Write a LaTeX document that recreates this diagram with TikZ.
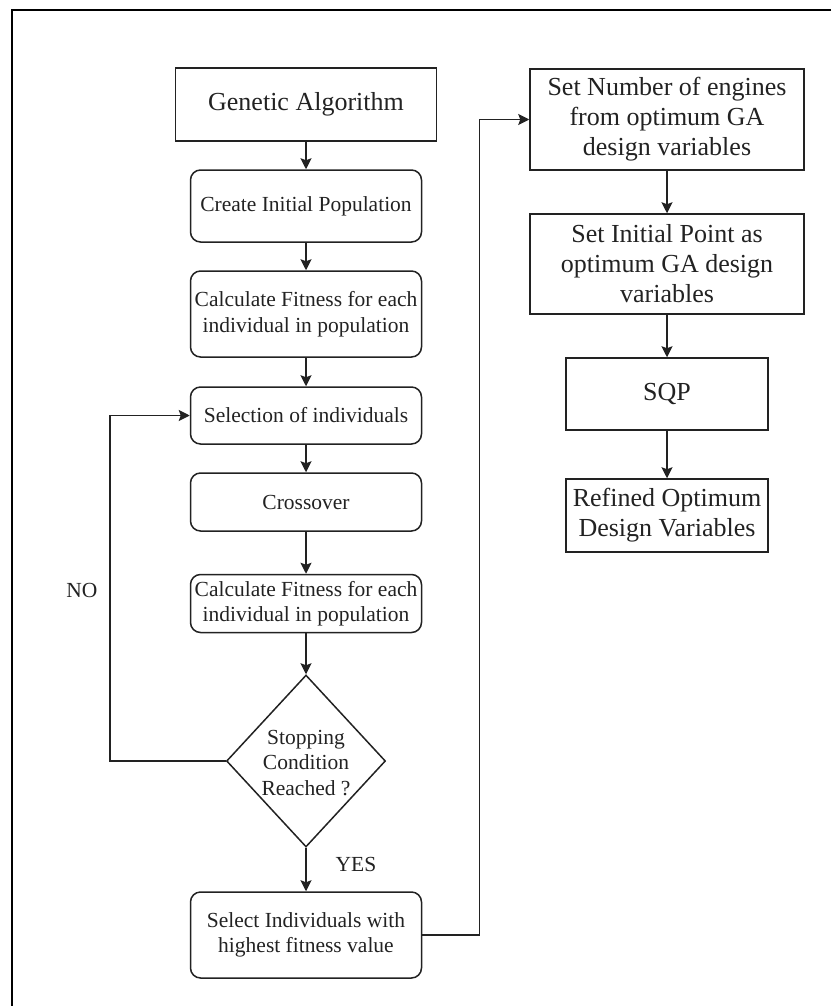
\documentclass[tikz,border=0pt]{standalone}
\usepackage{fontspec}
\setmainfont{Liberation Serif}
\usetikzlibrary{shapes.geometric,arrows.meta}
\definecolor{ink}{HTML}{222222}
\tikzset{
  x=1pt, y=-1pt,
  every node/.style={text=ink, align=center},
  plainbox/.style={draw=ink, line width=1.5pt, rectangle, inner sep=0pt},
  roundbox/.style={plainbox, rounded corners=10pt, minimum width=231pt},
  smalltext/.style={font=\fontsize{21.5}{25.5}\selectfont},
  bigtext/.style={font=\fontsize{26}{30}\selectfont},
  decision/.style={draw=ink, line width=1.5pt, diamond, inner sep=0pt, minimum width=159pt, minimum height=172pt},
  arr/.style={draw=ink, line width=1.5pt, -{Stealth[length=11pt,width=11pt,inset=2pt]}},
  link/.style={draw=ink, line width=1.5pt}
}
\begin{document}
\begin{tikzpicture}
\useasboundingbox (0,0) rectangle (831,1006);
% outer frame
\draw[draw=black, line width=2pt] (831,10) -- (12,10) -- (12,1006);

% left column: genetic algorithm
\node[plainbox, bigtext, minimum width=261pt, minimum height=73pt] (ga) at (306,104.5) {Genetic Algorithm};
\node[roundbox, smalltext, minimum height=72pt] (init) at (306,206) {Create Initial Population};
\node[roundbox, smalltext, minimum height=86pt] (fit1) at (306,314) {Calculate Fitness for each\\individual in population};
\node[roundbox, smalltext, minimum height=57pt] (sel) at (306,415.5) {Selection of individuals};
\node[roundbox, smalltext, minimum height=58pt] (cross) at (306,502) {Crossover};
\node[roundbox, smalltext, minimum height=58pt] (fit2) at (306,603.5) {Calculate Fitness for each\\individual in population};
\node[decision, label={[smalltext, align=center, yshift=-2pt]center:Stopping\\Condition\\Reached ?}] (stop) at (306,761) {};
\node[roundbox, smalltext, minimum height=86pt] (best) at (306,935) {Select Individuals with\\highest fitness value};

% right column: gradient-based refinement
\node[plainbox, bigtext, minimum width=274pt, minimum height=101pt] (eng) at (667,119.5) {Set Number of engines\\from optimum GA\\design variables};
\node[plainbox, bigtext, minimum width=274pt, minimum height=100pt] (start) at (667,264) {Set Initial Point as\\optimum GA design\\variables};
\node[plainbox, bigtext, minimum width=202pt, minimum height=72pt] (sqp) at (667,394) {SQP};
\node[plainbox, bigtext, minimum width=202pt, minimum height=73pt] (refined) at (667,515.5) {Refined Optimum\\Design Variables};

% branch labels
\node[smalltext] (no) at (82,590) {NO};
\node[smalltext] (yes) at (356,864) {YES};

% connectors
\draw[arr] (ga) -- (init);
\draw[arr] (init) -- (fit1);
\draw[arr] (fit1) -- (sel);
\draw[arr] (sel) -- (cross);
\draw[arr] (cross) -- (fit2);
\draw[arr] (fit2) -- (stop.north);
\draw[arr] (stop.south) -- (best);
\draw[arr] (stop.west) -- ++(-116,0) |- (sel.west);
\draw[arr] (best.east) -- ++(57,0) |- (eng.west);
\draw[arr] (eng) -- (start);
\draw[arr] (start) -- (sqp);
\draw[arr] (sqp) -- (refined);
\end{tikzpicture}
\end{document}
